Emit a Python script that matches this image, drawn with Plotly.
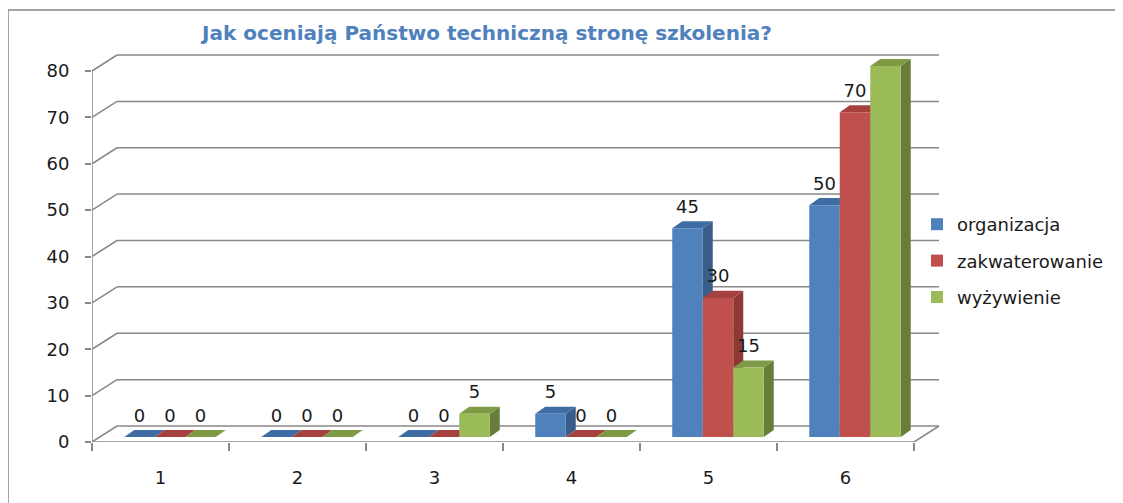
import plotly.graph_objects as go

# ---------------- data ----------------
categories = ["1", "2", "3", "4", "5", "6"]
series_names = ["organizacja", "zakwaterowanie", "wyżywienie"]
organizacja = [0, 0, 0, 5, 45, 50]
zakwaterowanie = [0, 0, 0, 0, 30, 70]
wyzywienie = [0, 0, 5, 0, 15, 80]
y_ticks = [0, 10, 20, 30, 40, 50, 60, 70, 80]
title_text = "Jak oceniają Państwo techniczną stronę szkolenia?"

series_values = [organizacja, zakwaterowanie, wyzywienie]
front_colors = ["#4F81BD", "#C0504D", "#9BBB59"]
side_colors = ["#385D8A", "#8C3835", "#697D3A"]
top_colors = ["#3F6DA3", "#A5423F", "#7E9A45"]

# ---------------- geometry (styling) ----------------
W, H = 1123, 503
PAGE_OFF = 8   # browser body margin
SX0, SX1, SY0, SY1 = 92, 943, 53, 442
ML = SX0 - PAGE_OFF
MT = SY0 - PAGE_OFF
MR = W - (SX1 - PAGE_OFF)
MB = H - (SY1 - PAGE_OFF)
PX_X = 137.0
PX_Y = 4.6375
plot_w = W - ML - MR
plot_h = H - MT - MB
x_range = [-0.5, -0.5 + plot_w / PX_X]
y_range = [0, plot_h / PX_Y]


def paper_x(sx):
    return (sx - SX0) / plot_w


def paper_y(sy):
    return (SY1 - sy) / plot_h


WDX, WDY = 25 / PX_X, 16 / PX_Y
B0 = 5 / PX_Y
SHIFT = 9.5 / PX_X
BW = 30.5 / PX_X
BDX, BDY = 10 / PX_X, 7 / PX_Y
LBL = 20 / PX_Y

grid_col = "#888888"
txt_col = "#1a1a1a"
FONT = "'DejaVu Sans', sans-serif"
FS = 18

xs = list(range(len(categories)))
n_cat = len(categories)

fig = go.Figure()

for j, vals in enumerate(series_values):
    off = SHIFT - 1.5 * BW + j * BW
    sx, sy, tx, ty = [], [], [], []
    for i, v in zip(xs, vals):
        xl = i + off
        xr = xl + BW
        top = B0 + v
        sx += [xr, xr + BDX, xr + BDX, xr, xr, None]
        sy += [B0, B0 + BDY, top + BDY, top, B0, None]
        tx += [xl, xl + BDX, xr + BDX, xr, xl, None]
        ty += [top, top + BDY, top + BDY, top, top, None]
    fig.add_trace(go.Scatter(x=sx, y=sy, mode="lines", fill="toself",
                             fillcolor=side_colors[j], line=dict(width=0, color=side_colors[j]),
                             showlegend=False, hoverinfo="skip"))
    fig.add_trace(go.Scatter(x=tx, y=ty, mode="lines", fill="toself",
                             fillcolor=top_colors[j], line=dict(width=0, color=top_colors[j]),
                             showlegend=False, hoverinfo="skip"))

for j, vals in enumerate(series_values):
    off = SHIFT - 1.5 * BW + j * BW
    fig.add_trace(go.Bar(
        x=xs, y=vals, base=B0, offset=off, width=BW,
        name=series_names[j], marker=dict(color=front_colors[j], line=dict(width=0)),
        xaxis="x2", yaxis="y2", legendgroup=series_names[j],
    ))

for j, vals in enumerate(series_values):
    off = SHIFT - 1.5 * BW + j * BW
    fig.add_trace(go.Scatter(
        x=[i + off + BW / 2 for i in xs], y=[B0 + v + LBL for v in vals],
        text=[str(v) for v in vals], mode="text", textposition="middle center",
        textfont=dict(family=FONT, size=FS, color=txt_col),
        xaxis="x2", yaxis="y2", showlegend=False, hoverinfo="skip"))

shapes = []
line = dict(color=grid_col, width=1.5)
for v in y_ticks:
    shapes.append(dict(type="line", xref="x", yref="y", x0=-0.5, y0=v,
                       x1=-0.5 + WDX, y1=v + WDY, line=line, layer="below"))
    shapes.append(dict(type="line", xref="x", yref="y", x0=-0.5 + WDX, y0=v + WDY,
                       x1=n_cat - 0.5 + WDX, y1=v + WDY, line=line, layer="below"))
shapes.append(dict(type="line", xref="x", yref="y", x0=-0.5, y0=0, x1=-0.5, y1=y_ticks[-1],
                   line=line, layer="below"))
shapes.append(dict(type="line", xref="x", yref="y", x0=-0.5, y0=0, x1=n_cat - 0.5, y1=0,
                   line=line, layer="below"))
shapes.append(dict(type="line", xref="x", yref="y", x0=n_cat - 0.5, y0=0,
                   x1=n_cat - 0.5 + WDX, y1=WDY, line=line, layer="below"))
border = dict(color="#868686", width=1.5)
shapes.append(dict(type="line", xref="paper", yref="paper", x0=paper_x(8), y0=paper_y(10),
                   x1=paper_x(8), y1=paper_y(520), line=border))
shapes.append(dict(type="line", xref="paper", yref="paper", x0=paper_x(8), y0=paper_y(10),
                   x1=paper_x(1140), y1=paper_y(10), line=border))

fig.update_layout(
    width=W, height=H,
    margin=dict(l=ML, r=MR, t=MT, b=MB, autoexpand=False),
    paper_bgcolor="white", plot_bgcolor="white",
    barmode="overlay",
    font=dict(family=FONT, size=FS, color=txt_col),
    title=dict(text="<b>" + title_text + "</b>", x=(487 - PAGE_OFF) / W, xref="container",
               xanchor="center", y=1 - (33 - PAGE_OFF) / H, yref="container", yanchor="middle",
               font=dict(family=FONT, size=20, color="#4F81BD")),
    xaxis=dict(range=x_range, tickvals=xs, ticktext=categories, ticks="",
               showgrid=False, zeroline=False, showline=False, ticklabelstandoff=23,
               minor=dict(tickvals=[i - 0.5 for i in range(n_cat + 1)], ticks="outside",
                          ticklen=8, tickwidth=1.5, tickcolor=grid_col, showgrid=False),
               tickfont=dict(size=FS, color=txt_col), fixedrange=True),
    yaxis=dict(range=y_range, tickvals=y_ticks, ticks="outside", ticklen=6, tickwidth=1.5,
               tickcolor=grid_col, showgrid=False, zeroline=False, showline=False,
               ticklabelstandoff=12, tickfont=dict(size=FS, color=txt_col), fixedrange=True),
    xaxis2=dict(range=x_range, overlaying="x", visible=False, fixedrange=True),
    yaxis2=dict(range=y_range, overlaying="y", visible=False, fixedrange=True),
    legend=dict(x=paper_x(917), xanchor="left", y=paper_y(206), yanchor="top",
                font=dict(family=FONT, size=FS, color=txt_col), tracegroupgap=10,
                traceorder="grouped", bgcolor="rgba(0,0,0,0)"),
    shapes=shapes,
    showlegend=True,
)

fig.write_html("out.html")
